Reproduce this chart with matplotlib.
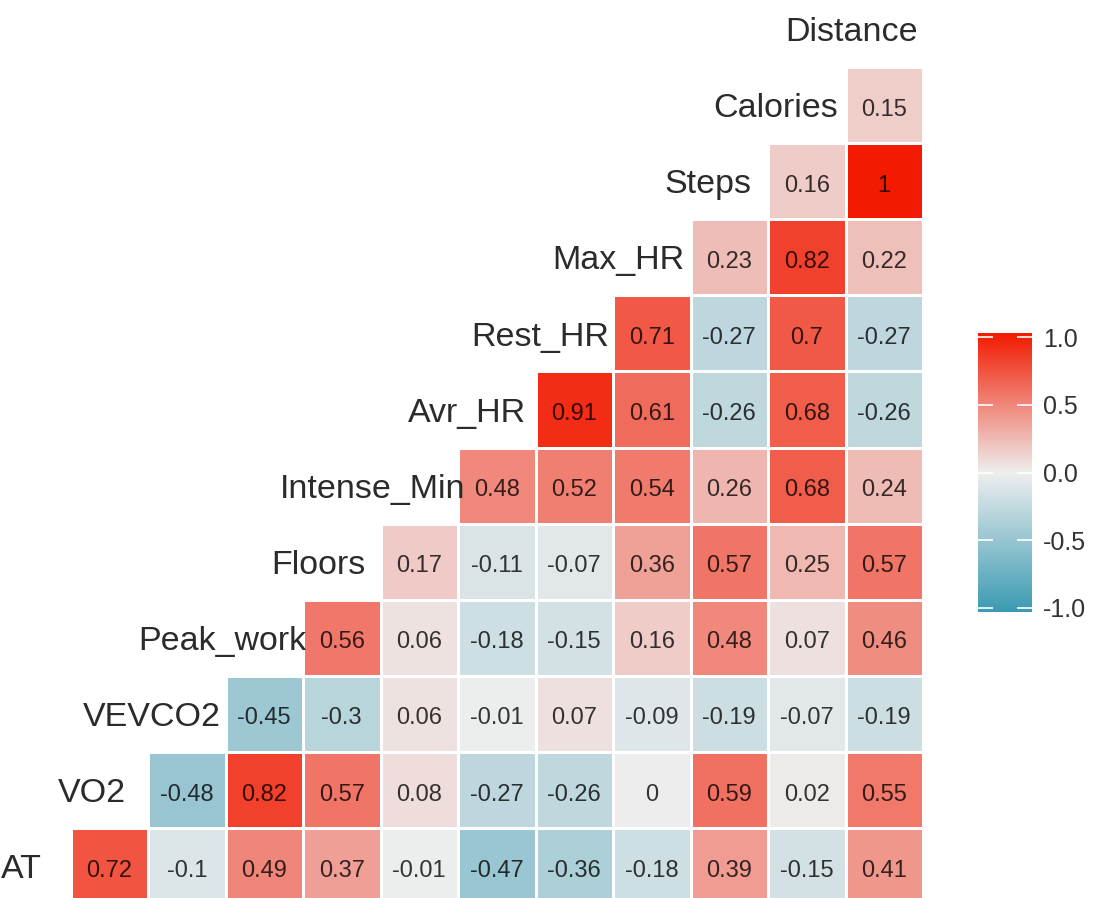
import numpy as np
import matplotlib
matplotlib.use("Agg")
import matplotlib.pyplot as plt
from matplotlib.colors import LinearSegmentedColormap
from matplotlib.cm import ScalarMappable
from matplotlib.colors import Normalize

plt.rcParams['font.family'] = ['Liberation Sans', 'DejaVu Sans']
plt.rcParams['axes.unicode_minus'] = False

# variables, bottom row first
variables = ["AT", "VO2", "VEVCO2", "Peak_work", "Floors", "Intense_Min",
             "Avr_HR", "Rest_HR", "Max_HR", "Steps", "Calories", "Distance"]

# correlations of each row variable with the variables to its right
r_at = [0.72, -0.1, 0.49, 0.37, -0.01, -0.47, -0.36, -0.18, 0.39, -0.15, 0.41]
r_vo2 = [-0.48, 0.82, 0.57, 0.08, -0.27, -0.26, 0, 0.59, 0.02, 0.55]
r_vevco2 = [-0.45, -0.3, 0.06, -0.01, 0.07, -0.09, -0.19, -0.07, -0.19]
r_peak_work = [0.56, 0.06, -0.18, -0.15, 0.16, 0.48, 0.07, 0.46]
r_floors = [0.17, -0.11, -0.07, 0.36, 0.57, 0.25, 0.57]
r_intense_min = [0.48, 0.52, 0.54, 0.26, 0.68, 0.24]
r_avr_hr = [0.91, 0.61, -0.26, 0.68, -0.26]
r_rest_hr = [0.71, -0.27, 0.7, -0.27]
r_max_hr = [0.23, 0.82, 0.22]
r_steps = [0.16, 1]
r_calories = [0.15]
r_distance = []

filas = [r_at, r_vo2, r_vevco2, r_peak_work, r_floors, r_intense_min,
         r_avr_hr, r_rest_hr, r_max_hr, r_steps, r_calories, r_distance]

n = len(variables)
M = np.full((n, n), np.nan)
for i, fila in enumerate(filas):
    for k, v in enumerate(fila):
        M[i, i + 1 + k] = v

cmap = LinearSegmentedColormap.from_list("ggcorr", ["#3B9AB2", "#EEEEEE", "#F21A00"])
norm = Normalize(vmin=-1, vmax=1)

fig = plt.figure(figsize=(10.99, 8.98), dpi=100)
ax = fig.add_axes([-7 / 1099, -6 / 898, 930 / 1099, 913 / 898])
ax.set_xlim(-0.5, n - 0.5)
ax.set_ylim(-0.5, n - 0.5)
ax.set_axis_off()

edges = np.arange(n + 1) - 0.5
ax.pcolormesh(edges, edges, np.ma.masked_invalid(M), cmap=cmap, norm=norm,
              edgecolors="white", linewidth=1.8)

# numbers in cells (baseline shifted so digits sit centred)
num_off = 0.14
for i in range(n):
    for j in range(n):
        v = M[i, j]
        if np.isnan(v):
            continue
        ax.text(j, i - num_off, f"{v:g}", ha="center", va="baseline",
                fontsize=17, color="black", alpha=0.78)

# diagonal labels, ggcorr style hjust = 0.75
renderer = fig.canvas.get_renderer()
px_per_unit = ax.bbox.width / n
lab_off = 0.16
for i, name in enumerate(variables):
    t = ax.text(i, i - lab_off, name, ha="center", va="baseline",
                fontsize=24.5, color="#2b2b2b")
    w = t.get_window_extent(renderer).width / px_per_unit
    t.set_x(i - 0.25 * w)

# colour bar
cax = fig.add_axes([978 / 1099, (898 - 612) / 898, 54 / 1099, 279 / 898])
cb_norm = Normalize(vmin=-1.03, vmax=1.03)
cb = fig.colorbar(ScalarMappable(norm=cb_norm, cmap=cmap), cax=cax,
                  ticks=[-1, -0.5, 0, 0.5, 1], format="%.1f")
cb.outline.set_visible(False)
cax.tick_params(axis="y", which="both", left=True, right=True, direction="in",
                length=11, width=1.2, color="white", labelsize=18,
                labelcolor="#333333", pad=8)
cax.minorticks_off()

fig.savefig("out.png", dpi=100)
